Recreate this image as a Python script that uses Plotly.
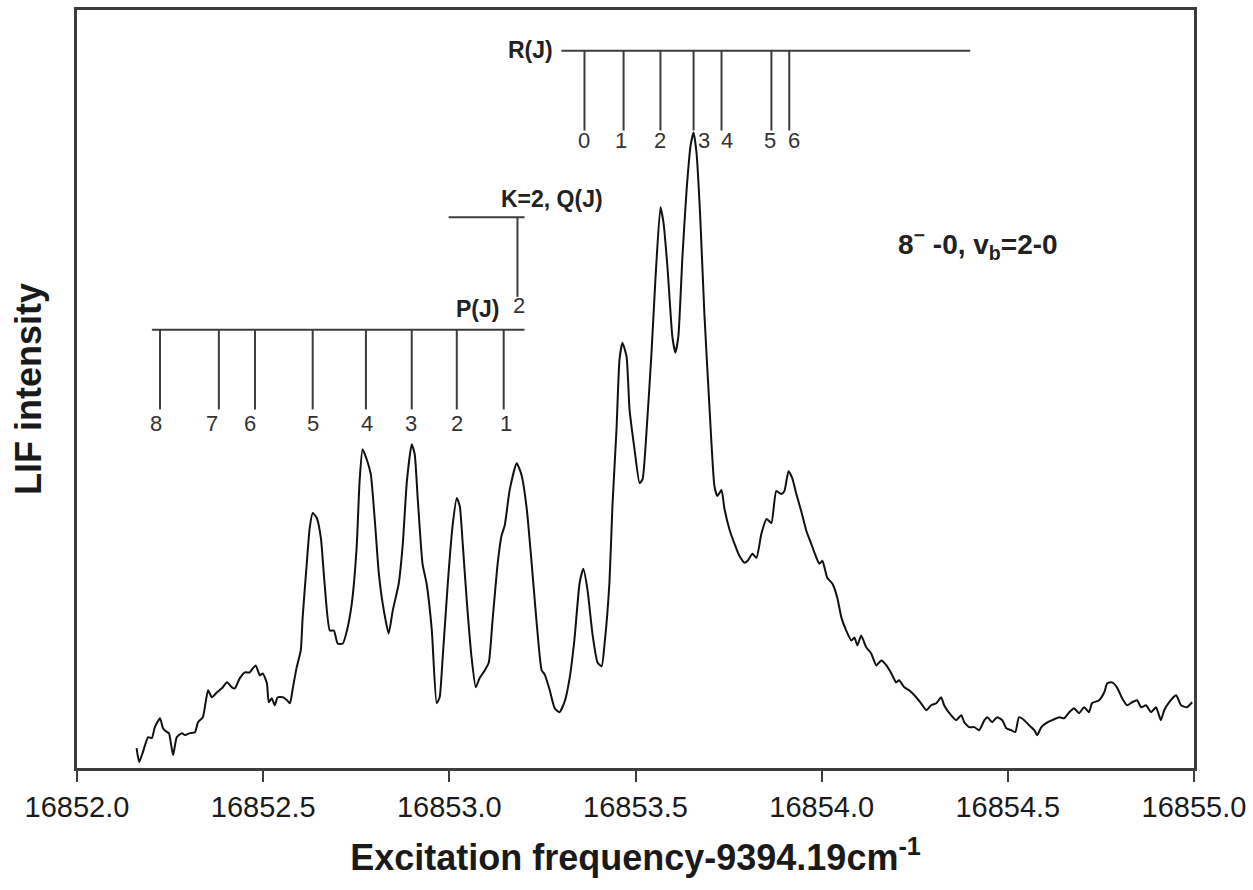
import plotly.graph_objects as go

# ---- spectrum ----
freq = [16852.160, 16852.167, 16852.177, 16852.191, 16852.201, 16852.209, 16852.223, 16852.231,
        16852.242, 16852.247, 16852.258, 16852.268, 16852.282, 16852.290, 16852.303, 16852.317,
        16852.325, 16852.338, 16852.352, 16852.362, 16852.376, 16852.389, 16852.403, 16852.416,
        16852.424, 16852.437, 16852.451, 16852.464, 16852.472, 16852.480, 16852.491, 16852.499,
        16852.510, 16852.515, 16852.523, 16852.531, 16852.539, 16852.553, 16852.564, 16852.572,
        16852.580, 16852.590, 16852.601, 16852.606, 16852.617, 16852.625, 16852.633, 16852.644,
        16852.655, 16852.665, 16852.679, 16852.690, 16852.700, 16852.714, 16852.725, 16852.738,
        16852.751, 16852.759, 16852.767, 16852.778, 16852.789, 16852.800, 16852.810, 16852.821,
        16852.837, 16852.848, 16852.864, 16852.875, 16852.886, 16852.899, 16852.907, 16852.915,
        16852.928, 16852.939, 16852.953, 16852.966, 16852.974, 16852.982, 16852.996, 16853.009,
        16853.020, 16853.028, 16853.036, 16853.047, 16853.060, 16853.071, 16853.081, 16853.095,
        16853.106, 16853.116, 16853.130, 16853.140, 16853.149, 16853.162, 16853.181, 16853.194,
        16853.208, 16853.221, 16853.234, 16853.248, 16853.256, 16853.269, 16853.283, 16853.296,
        16853.310, 16853.323, 16853.336, 16853.350, 16853.360, 16853.371, 16853.385, 16853.398,
        16853.409, 16853.417, 16853.430, 16853.438, 16853.449, 16853.457, 16853.465, 16853.476,
        16853.484, 16853.497, 16853.511, 16853.519, 16853.530, 16853.543, 16853.554, 16853.567,
        16853.575, 16853.586, 16853.599, 16853.607, 16853.615, 16853.626, 16853.637, 16853.648,
        16853.656, 16853.664, 16853.674, 16853.685, 16853.699, 16853.712, 16853.720, 16853.731,
        16853.739, 16853.752, 16853.766, 16853.779, 16853.793, 16853.801, 16853.814, 16853.825,
        16853.838, 16853.852, 16853.865, 16853.878, 16853.892, 16853.900, 16853.911, 16853.921,
        16853.932, 16853.945, 16853.959, 16853.972, 16853.986, 16853.994, 16854.002, 16854.015,
        16854.029, 16854.042, 16854.053, 16854.066, 16854.080, 16854.088, 16854.096, 16854.106,
        16854.120, 16854.133, 16854.147, 16854.160, 16854.174, 16854.187, 16854.200, 16854.208,
        16854.222, 16854.235, 16854.249, 16854.267, 16854.281, 16854.294, 16854.308, 16854.321,
        16854.329, 16854.343, 16854.361, 16854.375, 16854.383, 16854.396, 16854.410, 16854.423,
        16854.437, 16854.445, 16854.458, 16854.471, 16854.485, 16854.496, 16854.509, 16854.520,
        16854.530, 16854.544, 16854.557, 16854.571, 16854.579, 16854.590, 16854.603, 16854.619,
        16854.638, 16854.651, 16854.665, 16854.678, 16854.691, 16854.705, 16854.718, 16854.726,
        16854.745, 16854.759, 16854.767, 16854.780, 16854.793, 16854.807, 16854.820, 16854.834,
        16854.847, 16854.858, 16854.871, 16854.885, 16854.898, 16854.911, 16854.920, 16854.933,
        16854.952, 16854.965, 16854.981, 16854.995]
intensity = [20, 6, 16, 31, 30, 41, 50, 40,
             36, 35, 13, 31, 35, 33, 35, 36,
             46, 51, 78, 71, 76, 80, 86, 81,
             80, 90, 96, 96, 100, 103, 93, 95,
             85, 66, 70, 63, 71, 71, 68, 65,
             81, 101, 118, 151, 205, 241, 256, 251,
             231, 185, 138, 138, 125, 125, 138, 165,
             221, 288, 320, 310, 295, 248, 198, 165,
             135, 158, 185, 225, 288, 325, 315, 271,
             205, 185, 138, 65, 71, 110, 186, 244,
             271, 263, 225, 167, 110, 81, 90, 98,
             106, 148, 206, 233, 244, 279, 306, 294,
             260, 206, 148, 98, 94, 79, 60, 56,
             67, 90, 129, 186, 200, 179, 133, 106,
             102, 125, 186, 263, 340, 410, 427, 413,
             360, 321, 286, 290, 340, 417, 494, 563,
             548, 502, 433, 417, 433, 513, 579, 625,
             638, 617, 552, 456, 360, 283, 273, 279,
             260, 240, 225, 213, 206, 208, 215, 211,
             235, 250, 246, 278, 275, 278, 298, 291,
             275, 258, 238, 225, 211, 205, 208, 191,
             185, 171, 151, 138, 128, 131, 123, 133,
             121, 115, 103, 108, 103, 95, 86, 88,
             81, 78, 73, 65, 58, 63, 65, 71,
             63, 55, 48, 53, 46, 41, 41, 38,
             48, 51, 46, 51, 48, 40, 38, 36,
             51, 48, 43, 38, 33, 41, 45, 48,
             51, 50, 56, 60, 55, 61, 56, 65,
             68, 76, 85, 86, 81, 70, 63, 66,
             68, 61, 63, 56, 61, 48, 58, 66,
             73, 63, 61, 66]

# ---- assignment combs ----
p_lines = [16852.223, 16852.381, 16852.478, 16852.633, 16852.776, 16852.899, 16853.020, 16853.146]
p_label_x = [16852.212, 16852.362, 16852.464, 16852.633, 16852.778, 16852.896, 16853.020, 16853.151]
p_labels = ["8", "7", "6", "5", "4", "3", "2", "1"]
p_span = [16852.201, 16853.202]
p_level, p_bottom, p_text_y = 440, 360, 346

q_lines = [16853.183]
q_label_x = [16853.186]
q_labels = ["2"]
q_span = [16852.998, 16853.202]
q_level, q_bottom, q_text_y = 553, 473, 464

r_lines = [16853.363, 16853.468, 16853.567, 16853.656, 16853.731, 16853.865, 16853.913]
r_label_x = [16853.363, 16853.460, 16853.567, 16853.685, 16853.747, 16853.860, 16853.927]
r_labels = ["0", "1", "2", "3", "4", "5", "6"]
r_span = [16853.301, 16854.399]
r_level, r_bottom, r_text_y = 720, 640, 630

x_ticks = [16852.0, 16852.5, 16853.0, 16853.5, 16854.0, 16854.5, 16855.0]
x_range = [16852.0, 16855.0]
y_range = [0, 761]

FONT = "Liberation Sans, Arial, sans-serif"
LINE_GRAY = "#3c3c3c"


def comb(span, level, lines, bottom):
    xs, ys = [span[0], span[1], None], [level, level, None]
    for xv in lines:
        xs += [xv, xv, None]
        ys += [level, bottom, None]
    return xs, ys


fig = go.Figure()
fig.add_trace(go.Scatter(x=freq, y=intensity, mode="lines",
                         line=dict(color="#111111", width=2, shape="spline", smoothing=0.5),
                         showlegend=False, hoverinfo="skip"))

for span, level, lines, bottom in [(p_span, p_level, p_lines, p_bottom),
                                   (q_span, q_level, q_lines, q_bottom),
                                   (r_span, r_level, r_lines, r_bottom)]:
    xs, ys = comb(span, level, lines, bottom)
    fig.add_trace(go.Scatter(x=xs, y=ys, mode="lines",
                             line=dict(color=LINE_GRAY, width=2), showlegend=False,
                             hoverinfo="skip"))

annots = []
for lx, lab in zip(p_label_x, p_labels):
    annots.append(dict(x=lx, y=p_text_y, text=lab))
for lx, lab in zip(q_label_x, q_labels):
    annots.append(dict(x=lx, y=q_text_y, text=lab))
for lx, lab in zip(r_label_x, r_labels):
    annots.append(dict(x=lx, y=r_text_y, text=lab))
for a in annots:
    a.update(xref="x", yref="y", showarrow=False, xanchor="center", yanchor="middle",
             font=dict(family=FONT, size=22, color="#333333"))

bold = dict(family=FONT, size=23, color="#222222")
annots += [
    dict(x=16853.218, y=721, text="<b>R(J)</b>", xref="x", yref="y", showarrow=False,
         xanchor="center", yanchor="middle", font=bold),
    dict(x=16853.076, y=461, text="<b>P(J)</b>", xref="x", yref="y", showarrow=False,
         xanchor="center", yanchor="middle", font=bold),
    dict(x=16853.275, y=571, text="<b>K=2, Q(J)</b>", xref="x", yref="y", showarrow=False,
         xanchor="center", yanchor="middle", font=bold),
    dict(x=16854.420, y=526, text="<b>8<sup>\u2212</sup> -0, v<sub>b</sub>=2-0</b>",
         xref="x", yref="y", showarrow=False, xanchor="center", yanchor="middle",
         font=dict(family=FONT, size=28, color="#222222")),
]

fig.update_layout(
    width=1253, height=886,
    margin=dict(l=77, r=58, t=7, b=118),
    paper_bgcolor="white", plot_bgcolor="white",
    annotations=annots,
    xaxis=dict(range=x_range, tickvals=x_ticks, ticktext=[f"{v:.1f}" for v in x_ticks],
               showgrid=False, zeroline=False, showline=True, linecolor=LINE_GRAY,
               linewidth=2.5, mirror=True, ticks="outside", ticklen=11, tickwidth=2,
               tickcolor=LINE_GRAY, ticklabeloverflow="allow",
               tickfont=dict(family=FONT, size=29, color="#1a1a1a"),
               title=dict(text="<b>Excitation frequency-9394.19cm<sup>-1</sup></b>",
                          font=dict(family=FONT, size=36, color="#1a1a1a"), standoff=24)),
    yaxis=dict(range=y_range, showgrid=False, zeroline=False, showline=True,
               linecolor=LINE_GRAY, linewidth=2.5, mirror=True, ticks="",
               showticklabels=False,
               title=dict(text="<b>LIF intensity</b>",
                          font=dict(family=FONT, size=36, color="#1a1a1a"), standoff=22)),
)

fig.write_html("out.html",
               config={"displayModeBar": False},
               post_script="document.body.style.margin='0';document.body.style.overflow='hidden';")
